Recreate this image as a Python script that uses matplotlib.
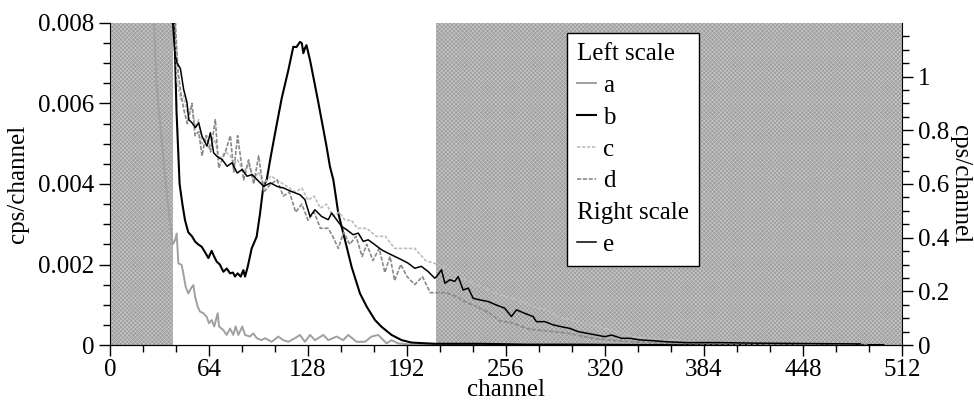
import matplotlib
matplotlib.use("Agg")
import matplotlib.pyplot as plt
from matplotlib.lines import Line2D
from matplotlib.ticker import MultipleLocator, FixedLocator

plt.rcParams["font.family"] = ["Liberation Serif", "DejaVu Serif"]
plt.rcParams["hatch.linewidth"] = 0.5

# --- data (channel, value) ---
a_ch = [28, 30, 33.4, 36.6, 39, 40.5, 42, 43.1, 44.2, 46.3, 47.4, 48.9, 50.6, 52.4, 53.9, 55,
        56.7, 58.2, 60.4, 62.5, 64, 65.7, 67.4, 69.6, 70.5, 73.3, 75.4, 77.6, 79.7, 81.2, 83,
        85.5, 87.3, 90.5, 92.7, 94.8, 98, 100.2, 104.5, 108.8, 112, 115.3, 119.6, 122.8, 126,
        129.3, 132.5, 137.9, 141.1, 146.5, 150.8, 154, 159.4, 164.8, 169.1, 173.4, 178.8, 182,
        186.3, 192, 200, 220, 260, 300]
a_val = [0.0085, 0.0065, 0.0051, 0.0038, 0.0030, 0.0025, 0.0026, 0.00277, 0.00203, 0.00199,
         0.00178, 0.00145, 0.00128, 0.00141, 0.00149, 0.0012, 0.00095, 0.00083, 0.00079, 0.0007,
         0.00054, 0.00062, 0.00046, 0.00079, 0.00046, 0.00037, 0.00025, 0.00041, 0.00025,
         0.00046, 0.00025, 0.00046, 0.00025, 0.00021, 0.00029, 0.00017, 0.00012, 0.00017,
         0.00008, 0.00021, 0.00012, 0.00008, 0.00017, 0.00025, 0.00008, 0.00025, 0.00012,
         0.00025, 0.00012, 0.00021, 0.00012, 0.00025, 0.00008, 0.00008, 0.00021, 0.00025,
         0.00004, 0.00012, 0.00004, 0.00002, 0.0, 0.0, 0.0, 0.0]

b_ch = [38, 40, 41.5, 43, 45, 46.8, 48.5, 50.6, 53, 55, 57, 59.3, 61.5, 63.6, 65.7, 67.3, 69,
        71, 73.3, 75.5, 77.6, 79.5, 80.8, 82.5, 84.5, 86.2, 87.3, 89, 91.6, 94.8, 97, 99.1,
        101.3, 104, 106.7, 111, 115.3, 118.5, 120.5, 122.8, 124, 125, 126, 127, 129.3, 131.4,
        134.6, 136.8, 140, 142.2, 144.4, 147.6, 151.9, 156.2, 161.6, 166, 171.3, 175.6, 182,
        188.6, 195, 210, 240, 270, 300, 350, 400, 450, 500]
b_val = [0.012, 0.0095, 0.0080, 0.0058, 0.0040, 0.0035, 0.0031, 0.0028, 0.0027, 0.00257,
         0.0025, 0.00244, 0.0023, 0.00216, 0.00234, 0.0022, 0.00207, 0.0020, 0.00182, 0.0019,
         0.00178, 0.0018, 0.0017, 0.00178, 0.0017, 0.00186, 0.0017, 0.00194, 0.0024, 0.00269,
         0.00327, 0.00393, 0.0041, 0.0047, 0.00526, 0.00613, 0.00683, 0.00741, 0.0074, 0.00753,
         0.0075, 0.00725, 0.00737, 0.00745, 0.00708, 0.00667, 0.00604, 0.00559, 0.00493,
         0.00443, 0.0041, 0.00327, 0.00261, 0.00194, 0.00128, 0.00095, 0.00062, 0.00045,
         0.00025, 0.00012, 0.00006, 0.00003, 0.00003, 0.00001, 0.00001, 0.0, 0.0, 0.0, 0.0]

c_ch = [40, 42, 43.3, 45.5, 47.6, 49.8, 53, 55.2, 57.3, 59.5, 62.7, 65, 68.1, 70.3, 74.6,
        77.8, 80, 82.5, 86.4, 89.6, 92.9, 96.1, 99.4, 104, 108, 112, 116, 120, 124, 128, 132,
        136, 140, 144, 148, 152, 156, 160, 166, 172, 178, 184, 190, 197, 204, 212, 218, 224,
        232, 240, 248, 256, 265, 274, 282, 290, 300, 310, 317, 328, 340, 355, 370, 385, 400,
        420, 440, 460, 480]
c_val = [0.0095, 0.0082, 0.0066, 0.0061, 0.0062, 0.0058, 0.0059, 0.0054, 0.0056, 0.0050,
         0.0052, 0.0049, 0.0051, 0.0046, 0.0048, 0.0047, 0.0045, 0.0046, 0.0043, 0.0045,
         0.0041, 0.0043, 0.0040, 0.0042, 0.0041, 0.0040, 0.0039, 0.0038, 0.0039, 0.0036,
         0.0037, 0.0034, 0.0035, 0.0032, 0.0033, 0.0031, 0.0031, 0.0029, 0.0029, 0.0027,
         0.0027, 0.0024, 0.0024, 0.0024, 0.0021, 0.0020, 0.0019, 0.0017, 0.0016, 0.00145,
         0.0013, 0.0012, 0.0011, 0.00095, 0.00088, 0.0007, 0.0006, 0.0005, 0.00045, 0.00032,
         0.0002, 0.00015, 0.0001, 0.00007, 0.00005, 0.00004, 0.00003, 0.00002, 0.00001]

d_ch = [40, 41, 42.5, 44, 46, 48, 50, 53, 55, 57.3, 59.5, 62, 65, 68.1, 70.3, 74.6, 77.8, 80,
        82.5, 86.4, 89.6, 92.9, 96.1, 99.4, 104, 108, 112, 116, 120, 124, 128, 132, 136, 141,
        144, 147.6, 151, 155, 159, 163, 166, 170, 174, 177.7, 181, 184, 188, 192, 197, 202,
        207, 212, 217.6, 224, 228.3, 234, 240, 245, 252, 260, 270, 282, 295, 305, 315, 330,
        350, 380, 420, 460, 490]
d_val = [0.012, 0.0095, 0.0078, 0.0068, 0.0062, 0.0058, 0.0055, 0.0060, 0.0052, 0.0053,
         0.0047, 0.0052, 0.0048, 0.0056, 0.0044, 0.0048, 0.0052, 0.0043, 0.0052, 0.0041,
         0.0046, 0.0040, 0.0047, 0.0038, 0.0040, 0.0041, 0.0037, 0.0038, 0.0033, 0.0035,
         0.0031, 0.0033, 0.0029, 0.0029, 0.0027, 0.0024, 0.0028, 0.0025, 0.0027, 0.0022,
         0.0025, 0.0021, 0.0024, 0.0018, 0.0022, 0.0016, 0.0020, 0.0017, 0.0015, 0.0017,
         0.0013, 0.0013, 0.0013, 0.0012, 0.0011, 0.0010, 0.0009, 0.0008, 0.0006, 0.00055,
         0.0004, 0.00035, 0.0003, 0.00022, 0.00015, 0.0001, 0.00005, 0.00003, 0.00002,
         0.00001, 0.0]

# right scale
e_ch = [40, 40.5, 42, 43.3, 45.5, 47.6, 49.8, 50.9, 53, 55.2, 57.3, 59.5, 62.7, 64.9, 67,
        69.2, 72.5, 75.7, 78.9, 82.2, 85.4, 88.6, 91.9, 95.1, 99.4, 103.7, 108, 112.3, 116,
        119.6, 122.8, 126, 129.3, 132.5, 136.8, 141.1, 143.3, 146.5, 149.7, 152.9, 157.2,
        160.5, 163.7, 166.9, 171.2, 175.5, 179.8, 184.1, 188.4, 192.7, 197, 201.3, 205.6,
        209.9, 211.1, 214.3, 216.5, 219.7, 222.9, 225.1, 228.3, 231.6, 234.8, 239.1, 244.5,
        249.8, 255.2, 259.5, 262.8, 268.1, 273.5, 275.7, 281.1, 286.5, 291.9, 297.2, 302.6,
        308, 314.5, 319.9, 324.2, 330.7, 336.1, 342.5, 351.2, 359.8, 372.7, 394.3, 415.8,
        437.4, 460, 485]
e_val = [1.5, 1.2, 1.083, 1.052, 1.03, 0.953, 0.903, 0.84, 0.828, 0.81, 0.828, 0.778, 0.741,
         0.791, 0.716, 0.703, 0.691, 0.666, 0.679, 0.641, 0.654, 0.629, 0.635, 0.616, 0.591,
         0.604, 0.591, 0.585, 0.575, 0.567, 0.56, 0.542, 0.479, 0.504, 0.479, 0.467, 0.492,
         0.467, 0.442, 0.43, 0.411, 0.417, 0.386, 0.392, 0.374, 0.355, 0.342, 0.33, 0.318,
         0.305, 0.286, 0.293, 0.274, 0.249, 0.255, 0.28, 0.23, 0.243, 0.237, 0.255, 0.205,
         0.212, 0.174, 0.168, 0.162, 0.149, 0.137, 0.106, 0.131, 0.118, 0.106, 0.087, 0.087,
         0.075, 0.068, 0.062, 0.05, 0.044, 0.037, 0.031, 0.037, 0.025, 0.025, 0.019, 0.016,
         0.012, 0.009, 0.009, 0.007, 0.006, 0.005, 0.004]

# shaded (excluded) channel ranges
shade_ranges = [(0, 40.5), (210.7, 512)]

# --- plot ---
fig = plt.figure(figsize=(9.74, 4.0), dpi=100)
ax = fig.add_axes([110 / 974, 55 / 400, 792 / 974, 322 / 400])
ax2 = ax.twinx()

for x0, x1 in shade_ranges:
    ax.axvspan(x0, x1, facecolor="#9e9e9e", edgecolor="#c6c6c6", hatch="xxxxxxxx",
               linewidth=0, zorder=0)

la, = ax.plot(a_ch, a_val, color="#a0a0a0", lw=1.4, label="a")
lb, = ax.plot(b_ch, b_val, color="black", lw=1.5, label="b")
lc, = ax.plot(c_ch, c_val, color="#bdbdbd", lw=1.2, ls=(0, (2, 1)), label="c")
ld, = ax.plot(d_ch, d_val, color="#8a8a8a", lw=1.2, ls=(0, (2.5, 1)), label="d")
le, = ax2.plot(e_ch, e_val, color="black", lw=1.1, label="e")

ax.set_xlim(0, 512)
ax.set_ylim(0, 0.008)
ax2.set_ylim(0, 1.2)

ax.xaxis.set_major_locator(MultipleLocator(64))
ax.xaxis.set_minor_locator(MultipleLocator(64 / 3))
ax.yaxis.set_major_locator(MultipleLocator(0.002))
ax.yaxis.set_minor_locator(MultipleLocator(0.0005))
ax.yaxis.set_major_formatter(plt.FuncFormatter(lambda v, p: "0" if v == 0 else f"{v:.3f}"))
ax2.yaxis.set_major_locator(FixedLocator([0, 0.2, 0.4, 0.6, 0.8, 1.0]))
ax2.yaxis.set_minor_locator(FixedLocator([i * 0.05 for i in range(24)]))
ax2.yaxis.set_major_formatter(plt.FuncFormatter(lambda v, p: "0" if v == 0 else f"{v:g}"))

for a_ in (ax, ax2):
    a_.tick_params(which="major", length=8, width=1, labelsize=18, direction="out")
    a_.tick_params(which="minor", length=5, width=1, direction="out")
    a_.spines["top"].set_visible(False)
ax.spines["right"].set_visible(False)
ax2.spines["left"].set_visible(False)
ax.tick_params(axis="x", pad=2)

ax.set_xlabel("channel", fontsize=18, labelpad=-1)
ax.set_ylabel("cps/channel", fontsize=18, labelpad=6)
ax2.set_ylabel("cps/channel", fontsize=18, rotation=270, labelpad=16)

# legend with section headers
blank = Line2D([], [], color="none")
handles = [blank, la, lb, lc, ld, blank, le]
labels = ["Left scale", "a", "b", "c", "d", "Right scale", "e"]
leg = ax2.legend(handles, labels, loc="upper left", bbox_to_anchor=(0.577, 0.969),
                 borderaxespad=0, fontsize=18, handlelength=0.75, handletextpad=0.3,
                 labelspacing=0.37, borderpad=0.4, fancybox=False, framealpha=1,
                 edgecolor="black")
leg.get_frame().set_linewidth(1.0)
rows = leg._legend_handle_box.get_children()[0].get_children()
for row, lab in zip(rows, labels):
    if lab in ("Left scale", "Right scale"):
        row.get_children()[0].width = 0
        row.sep = 0

fig.savefig("out.png", dpi=100)
